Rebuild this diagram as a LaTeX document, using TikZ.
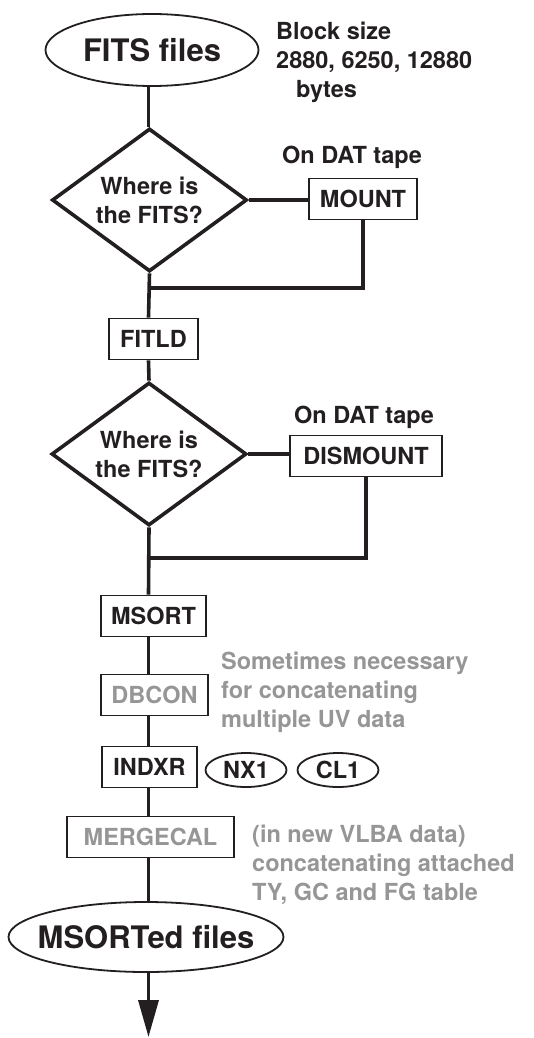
\documentclass[tikz,border=0pt]{standalone}
\usepackage{fontspec}
\setmainfont{TeX Gyre Heros}
\usetikzlibrary{shapes.geometric,arrows.meta}
\definecolor{ink}{RGB}{35,31,32}
\definecolor{notegray}{RGB}{150,150,150}
\newcommand{\txtfont}{\fontsize{23.5}{29}\selectfont\bfseries}
\newcommand{\bigfont}{\fontsize{31}{36}\selectfont\bfseries}
\tikzset{
  task/.style={draw=ink,line width=1.8pt,minimum height=41pt,text=ink,font=\txtfont},
  graytask/.style={task,text=notegray},
  files/.style={ellipse,draw=ink,line width=1.8pt,text=ink,font=\bigfont},
  tbl/.style={ellipse,draw=ink,line width=1.8pt,minimum width=81pt,minimum height=34pt,text=ink,font=\txtfont},
  ask/.style={diamond,draw=ink,line width=3.6pt,aspect=1.36,minimum width=195pt,minimum height=143pt,align=center,text=ink,font=\txtfont},
  note/.style={align=left,text=ink,font=\txtfont},
  flow/.style={draw=ink,line width=3.6pt}
}
\begin{document}
\begin{tikzpicture}[x=1pt,y=1pt]
            \tikzstyle{every node}+=[inner sep=0pt]
                \useasboundingbox (0,0) rectangle (533,-1038);
                \coordinate (spine) at (148.5,0);
                \node [files,minimum width=213pt,minimum height=72pt] (fits) at (152,-50) {FITS files};
                \node [note,anchor=north west] (blocksize) at (276,-22) {Block size\\2880, 6250, 12880\\\hspace*{20pt}bytes};
                \node [ask] (q1) at (149.5,-200) {Where is\\the FITS?};
                \node [note,anchor=base] (tape1) at (352,-163) {On DAT tape};
                \node [task,minimum width=108pt] (mount) at (363,-199) {MOUNT};
                \coordinate (j1) at (148.5,-288);
                \node [task,minimum width=89pt] (fitld) at (153.5,-339) {FITLD};
                \node [ask] (q2) at (149,-454) {Where is\\the FITS?};
                \node [note,anchor=base] (tape2) at (364,-423) {On DAT tape};
                \node [task,minimum width=152pt] (dismount) at (366,-456) {DISMOUNT};
                \coordinate (j2) at (148.5,-558);
                \node [task,minimum width=105pt] (msort) at (153.5,-616) {MSORT};
                \node [graytask,minimum width=107pt] (dbcon) at (154.5,-695) {DBCON};
                \node [note,text=notegray,anchor=north west] (dbconnote) at (221,-652) {Sometimes necessary\\for concatenating\\multiple UV data};
                \node [task,minimum width=95pt] (indxr) at (149.5,-767) {INDXR};
                \node [tbl] (nx1) at (246,-770) {NX1};
                \node [tbl] (cl1) at (338,-770) {CL1};
                \node [graytask,minimum width=167pt] (mergecal) at (150.5,-837) {MERGECAL};
                \node [note,text=notegray,anchor=north west] (mergenote) at (252,-825) {(in new VLBA data)\\concatenating attached\\TY, GC and FG table};
                \node [files,inner xsep=-12pt,minimum width=275pt,minimum height=70pt] (msorted) at (146,-937) {MSORTed files};
                \coordinate (out) at (148.5,-1037);
                % spine
                \draw [flow] (spine |- fits.south) -- (spine |- q1.north);
                \draw [flow] (q1.south) -- (spine |- fitld.north);
                \draw [flow] (spine |- fitld.south) -- (q2.north);
                \draw [flow] (q2.south) -- (spine |- msort.north);
                \draw [flow] (spine |- msort.south) -- (spine |- dbcon.north);
                \draw [flow] (spine |- dbcon.south) -- (spine |- indxr.north);
                \draw [flow] (spine |- indxr.south) -- (spine |- mergecal.north);
                \draw [flow] (spine |- mergecal.south) -- (spine |- msorted.north);
                \draw [flow,-{Triangle[length=37pt,width=20pt]}] (spine |- msorted.south) -- (out);
                % tape branches
                \draw [flow] (q1.east) -- (q1.east -| mount.west);
                \draw [flow] (mount.south) |- (j1);
                \draw [flow] (q2.east) -- (q2.east -| dismount.west);
                \draw [flow] (dismount.south) |- (j2);
            \end{tikzpicture}
\end{document}
